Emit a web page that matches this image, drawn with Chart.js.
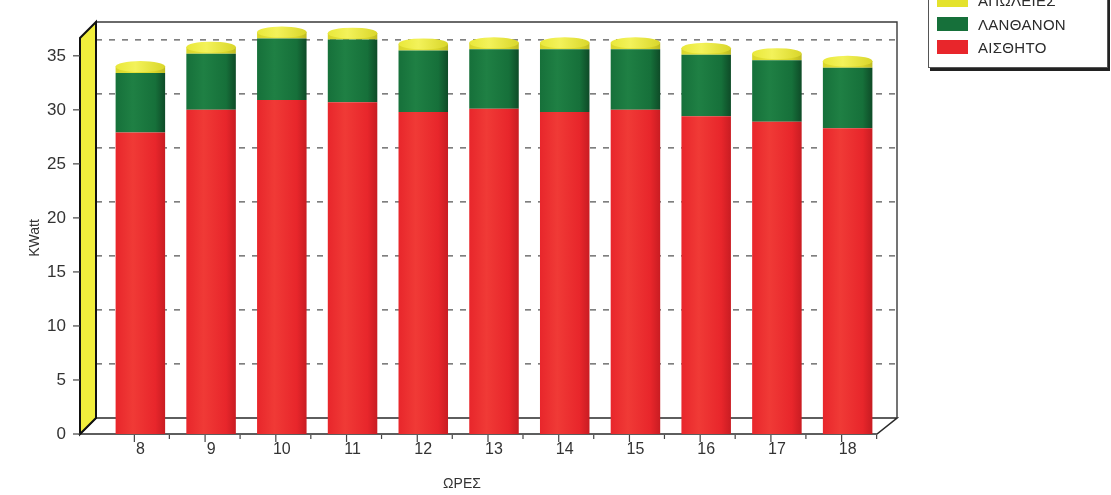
<!DOCTYPE html>
<html>
<head>
<meta charset="utf-8">
<script src="https://cdn.jsdelivr.net/npm/chart.js@4.4.1/dist/chart.umd.min.js"></script>
<style>
  html, body { margin: 0; padding: 0; background: #fff; overflow: hidden; }
  #wrap { position: relative; width: 1111px; height: 495px; overflow: hidden; }
  #chart { position: absolute; left: 0; top: 0; }
  .title { position: absolute; left: 300px; width: 300px; top: -15px; text-align: center;
           font: bold 15px "Liberation Sans", Arial, sans-serif; color: #4a78dc; }
  .legend { position: absolute; left: 928px; top: -18px; width: 178px; height: 84px;
            background: #fff; border: 1px solid #555; box-shadow: 2px 3px 0 #222; }
  .row { position: absolute; left: 8px; height: 16px; display: flex; align-items: center;
         font: 15px "Liberation Sans", Arial, sans-serif; color: #2b2b2b; letter-spacing: 0.3px; }
  .sw { width: 31px; height: 14px; margin-right: 10px; }
</style>
</head>
<body>
<div id="wrap">
  <canvas id="chart" width="1111" height="495"></canvas>
  <div class="title">ΘΕΡΜΙΚΑ ΦΟΡΤΙΑ</div>
  <div class="legend" id="legend"></div>
</div>
<script>
// Hourly cooling load per component (kW)
const hours = ['8', '9', '10', '11', '12', '13', '14', '15', '16', '17', '18'];
const sensible = [27.9, 30.0, 30.9, 30.7, 29.8, 30.1, 29.8, 30.0, 29.4, 28.9, 28.3];
const latent   = [5.5, 5.2, 5.7, 5.8, 5.7, 5.5, 5.8, 5.6, 5.7, 5.7, 5.6];
const extra    = [0.6, 0.6, 0.6, 0.6, 0.6, 0.6, 0.6, 0.6, 0.6, 0.6, 0.6];
const yTickValues = [0, 5, 10, 15, 20, 25, 30, 35];
const seriesNames = ['ΑΙΣΘΗΤΟ', 'ΛΑΝΘΑΝΟΝ', 'ΑΠΩΛΕΙΕΣ'];
const seriesColors = ['#e8262b', '#16703a', '#e4e22c'];
const xTitle = 'ΩΡΕΣ';
const yTitle = 'KWatt';

// Legend box (top entry first, as stacked)
const legendEl = document.getElementById('legend');
const rowTops = [9, 33, 56];
[2, 1, 0].forEach((si, i) => {
  const r = document.createElement('div');
  r.className = 'row';
  r.style.top = rowTops[i] + 'px';
  r.innerHTML = '<span class="sw" style="background:' + seriesColors[si] + '"></span>' + seriesNames[si];
  legendEl.appendChild(r);
});

// Horizontal shading so each bar reads as a cylinder
function cylinder(light, mid, dark) {
  return (ctx) => {
    const chart = ctx.chart;
    const xs = chart.scales && chart.scales.x;
    if (!xs || ctx.type !== 'data' || !chart.chartArea) return mid;
    const cx = xs.getPixelForValue(ctx.dataIndex);
    const g = chart.ctx.createLinearGradient(cx - 25, 0, cx + 25, 0);
    g.addColorStop(0, mid);
    g.addColorStop(0.35, light);
    g.addColorStop(0.8, mid);
    g.addColorStop(1, dark);
    return g;
  };
}

const DX = 16, DY = -16;   // depth offset of the back wall
const FONT = '"Liberation Sans", Arial, sans-serif';

const framePlugin = {
  id: 'frame3d',
  beforeDatasetsDraw(chart) {
    const { ctx, chartArea: a, scales: { x, y } } = chart;
    const y0 = y.getPixelForValue(0);
    const fl = a.left - 25, bl = fl + DX;          // front / back left edges
    const br = a.right + 14;                       // back right edge
    const topB = a.top + 4;                        // back wall top
    ctx.save();
    // floor
    ctx.beginPath();
    ctx.moveTo(fl, y0); ctx.lineTo(a.right - 6, y0);
    ctx.lineTo(br, y0 + DY); ctx.lineTo(bl, y0 + DY); ctx.closePath();
    ctx.fillStyle = '#ffffff'; ctx.fill();
    ctx.lineWidth = 1.6; ctx.strokeStyle = '#2a2a2a'; ctx.stroke();
    // back wall outline
    ctx.beginPath();
    ctx.moveTo(bl, y0 + DY); ctx.lineTo(bl, topB); ctx.lineTo(br, topB); ctx.lineTo(br, y0 + DY);
    ctx.lineWidth = 1.4; ctx.strokeStyle = '#3a3a3a'; ctx.stroke();
    // dashed gridlines on the back wall
    ctx.setLineDash([6, 7]);
    ctx.lineWidth = 1.2; ctx.strokeStyle = '#555';
    yTickValues.forEach(v => {
      if (v === 0) return;
      const py = y.getPixelForValue(v) + DY;
      ctx.beginPath(); ctx.moveTo(bl, py); ctx.lineTo(br, py); ctx.stroke();
    });
    ctx.setLineDash([]);
    // yellow side wall
    ctx.beginPath();
    ctx.moveTo(fl, y0); ctx.lineTo(fl, topB - DY); ctx.lineTo(bl, topB);
    ctx.lineTo(bl, y0 + DY); ctx.closePath();
    ctx.fillStyle = '#f1ee3c'; ctx.fill();
    ctx.lineWidth = 2; ctx.strokeStyle = '#111'; ctx.stroke();
    // y tick marks on the front edge
    ctx.lineWidth = 1.2; ctx.strokeStyle = '#444';
    yTickValues.forEach(v => {
      const py = y.getPixelForValue(v);
      ctx.beginPath(); ctx.moveTo(fl - 7, py); ctx.lineTo(fl, py); ctx.stroke();
    });
    // x tick marks below the floor
    hours.forEach((h, i) => {
      const px = x.getPixelForValue(i);
      ctx.beginPath(); ctx.moveTo(px - 6, y0 + 1); ctx.lineTo(px - 6, y0 + 8); ctx.stroke();
      const mx = px + 29;
      ctx.beginPath(); ctx.moveTo(mx, y0 + 1); ctx.lineTo(mx, y0 + 5); ctx.stroke();
    });
    ctx.restore();
  },
  afterDatasetsDraw(chart) {
    const { ctx, chartArea: a } = chart;
    const meta = chart.getDatasetMeta(2);
    ctx.save();
    // elliptical top caps
    meta.data.forEach(el => {
      const { x, y, width } = el.getProps(['x', 'y', 'width'], true);
      ctx.beginPath();
      ctx.ellipse(x, y, width / 2, 5.5, 0, 0, Math.PI * 2);
      const g = ctx.createLinearGradient(x - width / 2, 0, x + width / 2, 0);
      g.addColorStop(0, '#e9e83a'); g.addColorStop(0.4, '#f3f25a'); g.addColorStop(1, '#d9d62a');
      ctx.fillStyle = g; ctx.fill();
    });
    // axis titles
    ctx.fillStyle = '#333';
    ctx.font = '14px ' + FONT;
    ctx.textAlign = 'center'; ctx.textBaseline = 'middle';
    ctx.fillText(xTitle, (a.left + a.right) / 2 - 32, 484);
    ctx.translate(35, (a.top + a.bottom) / 2 + 12);
    ctx.rotate(-Math.PI / 2);
    ctx.fillText(yTitle, 0, 0);
    ctx.restore();
  }
};

new Chart(document.getElementById('chart'), {
  type: 'bar',
  data: {
    labels: hours,
    datasets: [
      { label: seriesNames[0], data: sensible, backgroundColor: cylinder('#f03a36', '#e8262b', '#c81c22') },
      { label: seriesNames[1], data: latent,   backgroundColor: cylinder('#1f8044', '#16703a', '#0e4a27') },
      { label: seriesNames[2], data: extra,    backgroundColor: cylinder('#e6e43a', '#d8d52a', '#bcb922') }
    ]
  },
  options: {
    responsive: false,
    animation: false,
    layout: { padding: { top: 18, right: 228, left: 0, bottom: 0 } },
    datasets: { bar: { categoryPercentage: 1, barPercentage: 0.7, borderWidth: 0 } },
    plugins: { legend: { display: false }, tooltip: { enabled: false } },
    scales: {
      x: {
        stacked: true,
        grid: { display: false, drawTicks: false },
        border: { display: false },
        ticks: { color: '#333', font: { family: FONT, size: 16 }, padding: 6 },
        afterFit(s) { s.height = 61; }
      },
      y: {
        stacked: true,
        min: 0, max: 38.5,
        grid: { display: false, drawTicks: false },
        border: { display: false },
        afterBuildTicks(s) { s.ticks = yTickValues.map(v => ({ value: v })); },
        ticks: { color: '#333', font: { family: FONT, size: 17 }, padding: 39 },
        afterFit(s) { s.width = 105; s.paddingTop = 10; s.paddingBottom = 10; }
      }
    }
  },
  plugins: [framePlugin]
});
</script>
</body>
</html>
